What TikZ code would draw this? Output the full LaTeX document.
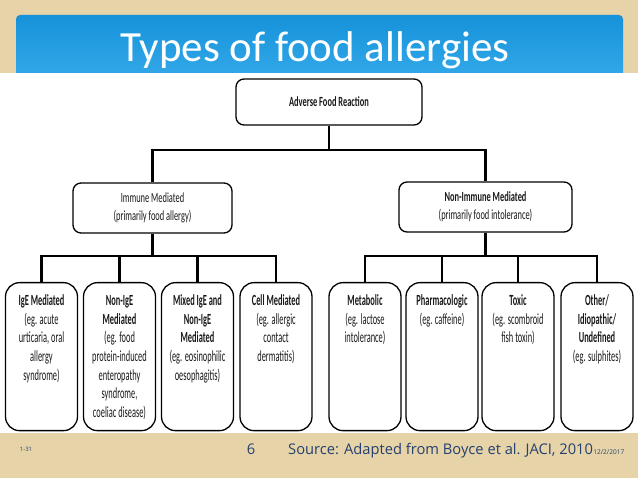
\documentclass[tikz,border=0pt]{standalone}
\usepackage{fontspec}
\setmainfont{Carlito}
\newfontfamily\narrowfont[FakeStretch=0.6]{Carlito}
\newfontfamily\leaffont[FakeStretch=0.54]{Carlito}
\newfontfamily\footfont{Open Sans}
\definecolor{parchment}{RGB}{230,211,168}
\definecolor{titletop}{RGB}{22,146,218}
\definecolor{titlebot}{RGB}{54,171,234}
\definecolor{footblue}{RGB}{36,64,112}
\definecolor{boxtext}{RGB}{25,25,25}

\tikzstyle{topbox}=[draw,line width=1.3pt,rounded corners=8pt,fill=white,align=center,text=boxtext,font=\narrowfont\fontsize{14}{18}\selectfont]
\tikzstyle{leaf}=[draw,line width=1.3pt,rounded corners=14pt,fill=white,anchor=north,inner xsep=3pt,inner ysep=10pt,text=boxtext,font=\leaffont\fontsize{15.5}{18.6}\selectfont]
\tikzstyle{link}=[line width=2.6pt]
\newcommand{\leaftext}[1]{\parbox[t][128pt][t]{66pt}{\centering\strut #1}}

\begin{document}
\begin{tikzpicture}[x=1pt,y=-1pt]
\useasboundingbox (0,0) rectangle (638,478);
\fill[parchment] (0,0) rectangle (638,478);
% title bar
\shade[top color=titletop,bottom color=titlebot,rounded corners=4pt] (16,15) rectangle (623,85);
\node[anchor=base,text=white,font=\fontsize{43}{50}\selectfont] (title) at (315,62) {Types of food allergies};
\fill[white] (0,73) rectangle (638,433);
% top levels
\node[topbox,minimum width=186,minimum height=46] (root) at (329,102) {\textbf{Adverse Food Reaction}};
\node[topbox,minimum width=159,minimum height=50] (imm) at (152.5,208) {Immune Mediated\\(primarily food allergy)};
\node[topbox,minimum width=173,minimum height=50] (nonimm) at (485.5,207) {\textbf{Non-Immune Mediated}\\(primarily food intolerance)};
\coordinate (fork) at (329,150);
\draw[link] (root) -- (fork);
\draw[link] (imm.north) |- (fork) -| (nonimm.north);
% immune column
\node[leaf] (ige) at (41.5,282) {\leaftext{\textbf{IgE Mediated}\\(eg. acute\\urticaria, oral\\allergy\\syndrome)}};
\node[leaf] (nonige) at (119.5,282) {\leaftext{\textbf{Non-IgE}\\\textbf{Mediated}\\(eg. food\\protein-induced\\enteropathy\\syndrome,\\coeliac disease)}};
\node[leaf] (mixed) at (197.5,282) {\leaftext{\textbf{Mixed IgE and}\\\textbf{Non-IgE}\\\textbf{Mediated}\\(eg. eosinophilic\\oesophagitis)}};
\node[leaf] (cell) at (276,282) {\leaftext{\textbf{Cell Mediated}\\(eg. allergic\\contact\\dermatitis)}};
% non-immune column
\node[leaf] (metab) at (365,282) {\leaftext{\textbf{Metabolic}\\(eg. lactose\\intolerance)}};
\node[leaf] (pharm) at (442,282) {\leaftext{\textbf{Pharmacologic}\\(eg. caffeine)}};
\node[leaf] (toxic) at (518,282) {\leaftext{\textbf{Toxic}\\(eg. scombroid\\fish toxin)}};
\node[leaf] (other) at (597,282) {\leaftext{\textbf{Other/}\\\textbf{Idiopathic/}\\\textbf{Undefined}\\(eg. sulphites)}};
\coordinate (lfork) at (152.5,256);
\coordinate (rfork) at (485.5,256);
\draw[link] (imm) -- (lfork);
\draw[link] (ige.north) |- (cell.north |- lfork) -- (cell.north);
\foreach \n in {nonige,mixed}
  \draw[link] (\n.north) -- (\n.north |- lfork);
\draw[link] (nonimm) -- (rfork);
\draw[link] (metab.north) |- (other.north |- rfork) -- (other.north);
\foreach \n in {pharm,toxic}
  \draw[link] (\n.north) -- (\n.north |- rfork);
% footer
\node[anchor=base,text=footblue,font=\footfont\fontsize{6}{7}\selectfont] (slide) at (26,452) {1-31};
\node[anchor=base,text=footblue,font=\footfont\fontsize{14.7}{17}\selectfont] (page) at (251,455) {6};
\node[anchor=base west,inner sep=0pt,text=footblue,font=\footfont\fontsize{14.7}{17}\selectfont] (source) at (288,455) {Source: Adapted from Boyce et al. JACI, 2010};
\node[anchor=base west,inner sep=0pt,text=footblue,font=\footfont\fontsize{6.5}{8}\selectfont] (date) at (source.base east) {12/2/2017};
\end{tikzpicture}
\end{document}
